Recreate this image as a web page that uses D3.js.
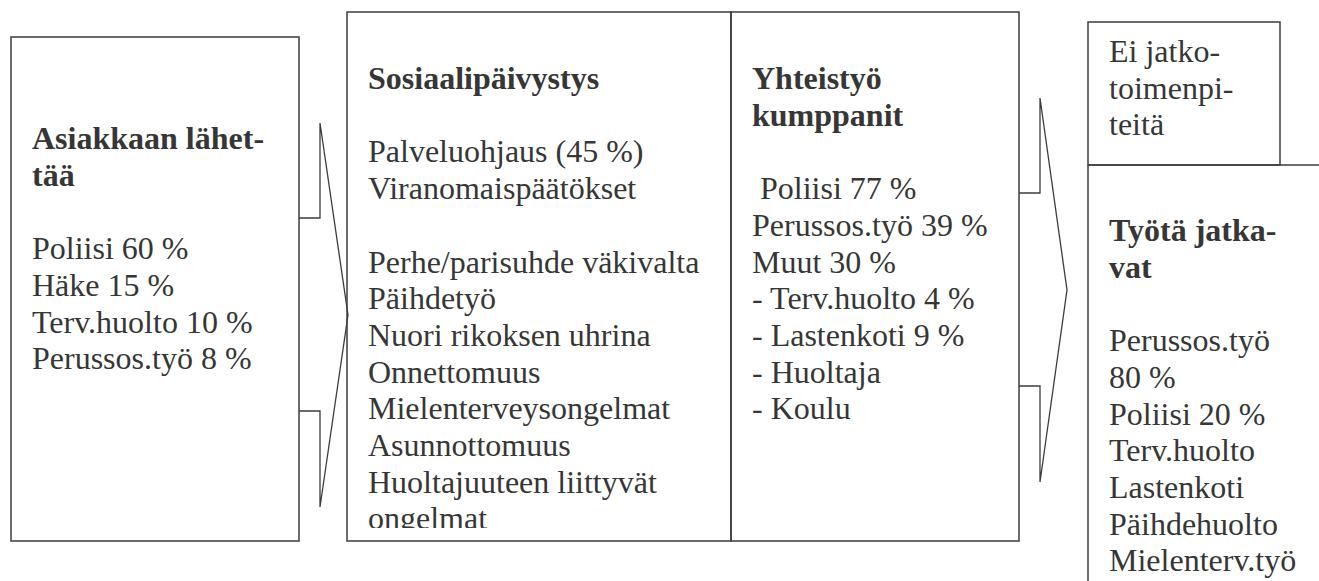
<!DOCTYPE html>
<html>
<head>
<meta charset="utf-8">
<script src="https://cdn.jsdelivr.net/npm/d3@7"></script>
<style>
  body { margin: 0; background: #fff; }
  svg text { font-family: "Liberation Serif", "Times New Roman", serif; font-size: 32px; fill: #363636; }
  .title { font-weight: bold; }
</style>
</head>
<body>
<div id="chart"></div>
<script>
// text content of each box, one entry per line ("" = empty line)
var senderTitle = ["Asiakkaan lähet-", "tää"];
var senders = ["Poliisi 60 %", "Häke 15 %", "Terv.huolto 10 %", "Perussos.työ 8 %"];

var dutyTitle = ["Sosiaalipäivystys"];
var dutyTasks = ["Palveluohjaus (45 %)", "Viranomaispäätökset"];
var dutyCases = ["Perhe/parisuhde väkivalta", "Päihdetyö", "Nuori rikoksen uhrina", "Onnettomuus",
  "Mielenterveysongelmat", "Asunnottomuus", "Huoltajuuteen liittyvät", "ongelmat"];

var partnerTitle = ["Yhteistyö", "kumppanit"];
var partners = [" Poliisi 77 %", "Perussos.työ 39 %", "Muut 30 %", "- Terv.huolto 4 %",
  "- Lastenkoti 9 %", "- Huoltaja", "- Koulu"];

var noFollowUp = ["Ei jatko-", "toimenpi-", "teitä"];
var continueTitle = ["Työtä jatka-", "vat"];
var continuers = ["Perussos.työ", "80 %", "Poliisi 20 %", "Terv.huolto", "Lastenkoti", "Päihdehuolto", "Mielenterv.työ"];

var W = 1319, H = 581;
var lineH = 36.7;
var stroke = "#3c3c3c";

var svg = d3.select("#chart").append("svg")
    .attr("width", W)
    .attr("height", H);

// builds the lines of one text column: title lines (bold), blank line, then body blocks
function column(g, x, y0, blocks) {
    var rows = [];
    blocks.forEach(function(b, bi) {
        if (bi > 0) rows.push({text: "", bold: false});
        b.lines.forEach(function(t) { rows.push({text: t, bold: b.bold}); });
    });
    var y = d3.scaleLinear().domain([0, 1]).range([y0, y0 + lineH]);
    g.selectAll("text.row")
        .data(rows)
        .enter().append("text")
        .attr("class", function(d) { return d.bold ? "row title" : "row"; })
        .attr("x", x)
        .attr("y", function(d, i) { return y(i); })
        .attr("xml:space", "preserve")
        .text(function(d) { return d.text; });
}

function box(x0, y0, x1, y1) {
    svg.append("rect")
        .attr("x", x0).attr("y", y0)
        .attr("width", x1 - x0).attr("height", y1 - y0)
        .attr("fill", "none").attr("stroke", stroke).attr("stroke-width", 1.5);
}

function arrow(xb, xs, xt, stemTop, stemBot, headTop, headBot) {
    var mid = (headTop + headBot) / 2;
    var pts = [[xb, stemTop], [xs, stemTop], [xs, headTop], [xt, mid], [xs, headBot], [xs, stemBot], [xb, stemBot]];
    svg.append("path")
        .attr("d", d3.line()(pts))
        .attr("fill", "none").attr("stroke", stroke).attr("stroke-width", 1.3);
}

// boxes
box(11, 37, 299, 541);
box(347, 12, 731, 541);
box(731, 12, 1019, 541);
box(1088, 22, 1280, 165);
svg.append("path")
    .attr("d", d3.line()([[1088, 165], [1319, 165]]))
    .attr("stroke", stroke).attr("stroke-width", 1.5);
svg.append("path")
    .attr("d", d3.line()([[1088, 165], [1088, H + 2]]))
    .attr("stroke", stroke).attr("stroke-width", 1.5);

// arrows
arrow(299, 320, 348, 218, 411, 123, 507);
arrow(1019, 1040, 1067, 193, 386, 98, 482);

// text columns
column(svg.append("g"), 32, 149, [
    {lines: senderTitle, bold: true},
    {lines: senders, bold: false}
]);

svg.append("clipPath").attr("id", "dutyClip")
    .append("rect").attr("x", 347).attr("y", 12).attr("width", 384).attr("height", 516);
column(svg.append("g").attr("clip-path", "url(#dutyClip)"), 368, 89, [
    {lines: dutyTitle, bold: true},
    {lines: dutyTasks, bold: false},
    {lines: dutyCases, bold: false}
]);

column(svg.append("g"), 752, 89, [
    {lines: partnerTitle, bold: true},
    {lines: partners, bold: false}
]);

column(svg.append("g"), 1109, 62, [
    {lines: noFollowUp, bold: false}
]);

column(svg.append("g"), 1109, 241, [
    {lines: continueTitle, bold: true},
    {lines: continuers, bold: false}
]);
</script>
</body>
</html>
